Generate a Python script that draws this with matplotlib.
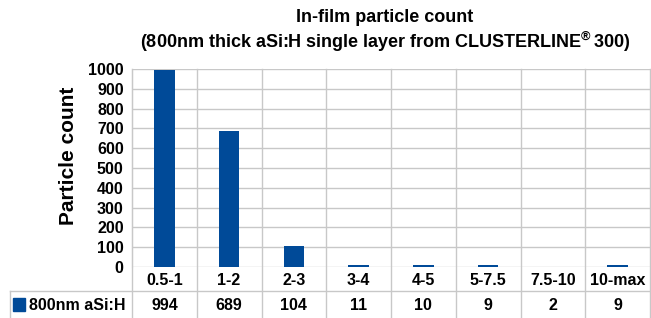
import numpy as np
import matplotlib.pyplot as plt
import matplotlib.transforms as mtransforms

plt.rcParams['font.family'] = ['Liberation Sans', 'DejaVu Sans']
plt.rcParams['mathtext.fontset'] = 'custom'
plt.rcParams['mathtext.bf'] = 'Liberation Sans:bold'
plt.rcParams['mathtext.rm'] = 'Liberation Sans:bold'
plt.rcParams['mathtext.default'] = 'bf'

categories = ['0.5-1', '1-2', '2-3', '3-4', '4-5', '5-7.5', '7.5-10', '10-max']
counts = [994, 689, 104, 11, 10, 9, 2, 9]
series_name = '800nm aSi:H'

blue = '#004a98'
grid = '#c8c8c8'

fig = plt.figure(figsize=(6.51, 3.18), dpi=100)
ax = fig.add_axes([132/651, 1-267/318, 518/651, 198/318])

ind = np.arange(len(categories))
ax.bar(ind, counts, 0.32, color=blue, zorder=3)

ax.set_xlim(-0.5, len(categories)-0.5)
ax.set_ylim(0, 1000)
ax.set_yticks(np.arange(0, 1001, 100))
ax.set_yticklabels([str(v) for v in range(0, 1001, 100)], fontsize=11.5, fontweight='bold')
ax.set_xticks([])
ax.yaxis.grid(True, color=grid, lw=1, zorder=0)
ax.tick_params(axis='y', length=0, pad=6)
for s in ['top', 'right', 'bottom']:
    ax.spines[s].set_visible(False)
ax.spines['left'].set_color(grid)

ax.set_ylabel('Particle count', fontsize=15, fontweight='bold')
ax.yaxis.set_label_coords(-0.104, 0.563)

# data table below the plot
tr = mtransforms.blended_transform_factory(ax.transData, ax.transAxes)
for b in np.arange(-0.5, len(categories)):
    ax.plot([b, b], [1, -0.26], transform=tr, color=grid, lw=1, clip_on=False, zorder=1)
for i, (c, v) in enumerate(zip(categories, counts)):
    ax.text(i, -0.066, c, transform=tr, ha='center', va='center', fontsize=11.5, fontweight='bold')
    ax.text(i, -0.193, str(v), transform=tr, ha='center', va='center', fontsize=11.5, fontweight='bold')

# table outline towards the left
x0 = ax.transAxes.inverted().transform(fig.transFigure.transform((10/651, 0)))[0]
ax.plot([x0, 1], [-0.122, -0.122], transform=ax.transAxes, color=grid, lw=1, clip_on=False)
ax.plot([x0, x0], [-0.122, -0.26], transform=ax.transAxes, color=grid, lw=1, clip_on=False)

fig.patches.append(plt.Rectangle((13/651, 1-311/318), 12/651, 13/318, color=blue,
                                 transform=fig.transFigure, figure=fig))
fig.text(29/651, 1-305/318, series_name, ha='left', va='center', fontsize=11.5, fontweight='bold')

fig.text(385/651, 1-18/318, 'In-film particle count', ha='center', va='center',
         fontsize=13, fontweight='bold')
fig.text(385/651, 1-42/318, r'(800nm thick aSi:H single layer from CLUSTERLINE$^{®}\,$300)',
         ha='center', va='center', fontsize=13, fontweight='bold')

fig.savefig('out.png', dpi=100)
